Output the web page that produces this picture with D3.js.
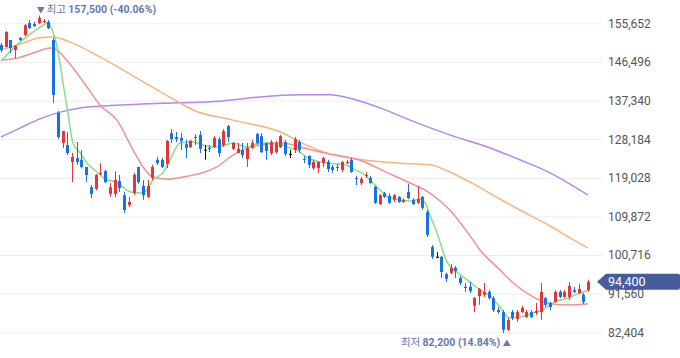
<!DOCTYPE html>
<html><head><meta charset="utf-8">
<script src="https://cdn.jsdelivr.net/npm/d3@7"></script>
<style>html,body{margin:0;padding:0;background:#fff;overflow:hidden}</style>
</head><body><svg id="c" width="680" height="358"></svg>
<script>
// prices in thousands of won
const opens  = [150.5,150.0,151.7,149.3,152.2,152.9,155.7,155.5,155.7,156.0,156.0,151.7,134.4,127.3,126.8,122.8,123.7,123.3,121.6,116.8,116.4,119.9,120.6,115.2,115.2,118.3,114.9,112.6,115.4,121.6,117.1,114.5,119.0,123.3,123.3,122.3,129.6,128.7,128.5,127.0,126.3,128.5,129.2,125.7,126.1,126.3,128.2,126.8,131.3,125.9,124.9,125.6,123.5,126.1,129.4,128.9,127.3,124.9,125.1,126.3,127.5,124.7,125.6,127.5,123.5,124.2,121.3,121.3,122.5,122.8,121.6,121.6,120.9,122.5,123.3,119.0,117.8,119.5,119.0,116.9,112.8,115.4,114.7,113.8,114.5,113.3,115.7,113.8,113.1,114.5,110.9,102.6,100.3,100.3,96.2,96.5,97.7,95.3,93.2,93.2,88.7,91.0,91.3,92.0,90.5,87.7,87.2,83.0,87.2,85.6,87.2,86.0,87.2,87.0,87.2,90.5,89.4,89.6,92.0,90.8,90.8,92.4,91.7,91.3,92.4];
const highs  = [151.0,153.8,151.7,150.5,152.4,155.5,156.4,156.0,157.5,156.7,156.4,152.2,134.9,130.1,129.9,124.9,127.5,125.6,121.6,117.3,119.9,122.5,120.9,117.8,120.6,119.7,115.7,114.5,120.2,121.6,118.5,118.5,122.1,124.0,123.7,128.0,130.6,129.9,129.6,128.0,128.0,129.4,130.1,126.8,126.8,128.9,128.7,130.6,131.5,127.5,127.3,127.3,127.3,128.0,129.6,129.6,127.3,128.0,127.8,129.2,128.0,125.6,128.7,128.0,124.2,124.4,123.3,122.8,124.0,123.3,122.1,122.3,123.0,123.3,123.7,119.5,119.2,120.4,119.5,117.1,115.2,115.7,115.4,115.2,114.7,114.2,117.6,114.2,117.1,114.7,111.4,103.1,101.4,100.5,96.5,98.6,98.1,95.8,94.1,94.3,90.8,92.9,94.1,92.4,91.0,88.4,87.7,85.8,87.7,87.7,88.7,87.7,87.7,89.4,94.1,90.8,89.6,92.4,92.4,92.4,94.3,93.2,93.9,91.7,94.8];
const lows   = [148.8,150.0,148.6,147.4,151.5,152.6,154.3,154.8,155.5,155.7,154.3,136.8,128.2,126.1,124.4,118.0,122.1,121.3,118.0,114.2,116.1,119.7,117.8,114.5,114.5,115.7,110.7,112.1,114.9,117.6,113.8,114.2,118.5,122.1,121.3,121.3,127.3,127.5,125.6,123.7,126.1,126.8,124.9,123.3,125.1,126.1,124.0,126.3,127.5,125.6,124.9,123.7,121.6,125.9,126.8,124.9,123.3,124.4,124.7,126.1,124.2,123.7,124.9,124.9,122.5,121.3,120.9,120.2,121.6,120.4,120.2,120.6,120.4,122.3,120.2,117.3,117.3,119.0,117.6,112.8,112.6,114.2,112.8,113.3,113.1,113.1,114.0,112.6,112.8,111.4,105.0,99.8,100.0,95.3,94.3,96.2,95.3,93.6,92.0,91.7,87.2,88.9,90.8,90.1,87.2,86.8,82.2,82.7,85.3,84.9,87.0,85.8,85.8,86.5,85.3,88.4,87.7,89.4,90.5,90.5,90.1,91.7,91.5,89.1,92.0];
const closes = [149.3,153.6,149.8,150.3,151.7,155.2,154.5,155.0,156.9,156.2,154.5,138.7,128.7,130.1,124.9,124.0,122.8,121.6,119.7,115.2,119.7,120.2,118.0,116.8,118.5,116.6,111.4,113.3,119.7,118.0,114.9,117.1,121.6,122.5,121.6,127.8,128.2,128.2,127.8,126.1,127.8,128.7,125.9,125.7,125.9,128.5,124.9,130.1,128.7,127.3,125.9,124.4,126.1,127.3,127.3,125.1,125.4,127.5,127.3,128.9,124.7,124.7,128.2,125.6,123.3,122.1,122.8,122.8,123.7,121.1,120.9,121.4,122.8,122.8,120.4,118.8,118.8,119.7,117.8,113.1,114.9,114.5,113.1,114.9,113.3,113.8,114.2,112.8,114.0,111.9,105.5,100.3,100.3,96.7,95.1,97.7,96.9,94.1,92.9,92.2,90.5,92.7,92.0,90.5,87.7,87.2,83.0,85.3,85.8,87.2,88.2,87.2,86.0,87.5,92.0,88.9,88.4,92.0,90.8,92.0,93.4,92.0,92.7,89.6,94.4];

// moving average lines: [candle index, price (thousands)]
const ma5  = [[0,146.7],[4.0,151.2],[6.8,153.6],[8.9,155.2],[9.9,155.7],[10.8,154.1],[12.0,149.3],[13.1,141.5],[14.2,133.9],[15.2,127.3],[16.7,124.9],[18.2,122.5],[20.3,120.4],[22.4,118.5],[24.5,118.0],[25.8,116.8],[27.2,115.7],[29.4,115.4],[30.8,116.1],[32.1,118.5],[34.2,120.2],[35.7,123.3],[37.8,127.3],[40.6,127.5],[42.7,126.8],[44.8,126.3],[46.9,126.6],[49.0,127.3],[52.0,126.3],[54.7,127.3],[58.3,127.3],[60.4,126.3],[62.5,125.6],[64.6,123.9],[67.4,122.8],[69.5,122.5],[72.7,122.1],[74.8,120.9],[76.9,119.7],[78.4,118.0],[80.5,115.7],[81.7,114.5],[83.9,113.8],[86.8,113.5],[88.5,114.0],[89.6,113.1],[90.6,110.2],[92.1,106.0],[94.2,99.1],[96.3,96.7],[99.1,94.3],[101.2,92.4],[103.3,91.0],[105.4,88.4],[107.5,85.8],[109.6,86.0],[112.4,87.0],[114.5,87.7],[116.6,89.4],[119.6,90.5],[122.3,91.7],[124,92.4]];
const ma20 = [[0,146.9],[3.4,147.4],[6.8,148.6],[10.4,149.8],[11.4,149.6],[13.9,146.9],[18.2,140.5],[20.9,136.3],[24.5,132.7],[27.9,125.6],[30.0,121.6],[32.1,119.2],[35.1,118.7],[38.4,119.2],[45.6,121.6],[49.0,124.4],[52.6,126.3],[59.6,127.3],[63.2,126.3],[68.4,124.9],[76.3,123.0],[81.7,120.2],[86.4,117.8],[90.6,115.4],[94.8,111.4],[99.7,104.3],[101.2,101.9],[105.4,97.2],[108.2,94.1],[112.4,90.8],[116.6,89.1],[120.2,88.9],[124,89.1]];
const ma60 = [[0,149.3],[4.0,150.7],[8.2,152.2],[11.0,152.4],[14.6,151.2],[20.9,147.7],[29.4,142.2],[37.8,136.8],[40.6,135.1],[49.0,132.7],[59.6,129.6],[63.2,127.5],[69.5,124.7],[76.3,123.3],[84.3,122.5],[90.6,122.1],[94.8,120.4],[99.1,118.0],[105.4,114.0],[109.6,111.4],[116.0,107.6],[120.2,104.8],[124,102.4]];
const ma120= [[0,128.7],[4.0,130.8],[8.2,133.0],[12.5,134.6],[16.7,135.6],[20.9,136.0],[29.4,136.5],[37.8,136.8],[46.3,137.2],[54.7,138.2],[63.2,138.7],[69.5,138.7],[73.7,137.9],[80.1,135.6],[86.4,132.7],[94.8,129.2],[103.3,126.1],[109.6,123.3],[116.0,120.2],[122.3,116.1],[124,114.9]];

const tickValues = [82404,91560,100716,109872,119028,128184,137340,146496,155652];
const maxLabel = {text:"최고", price:"157,500", pct:"(-40.06%)"};
const minLabel = {text:"최저", price:"82,200", pct:"(14.84%)"};
const lastLabel = "94,400";

const svg = d3.select("#c");
const n = opens.length;
const x = d3.scaleLinear().domain([0, n-1]).range([1, 588]);
const y = d3.scaleLinear().domain([82404, 155652]).range([332.3, 23.3]);
const K = v => v*1000;

// grid + axis labels
const axis = d3.axisRight(y).tickValues(tickValues).tickSize(603).tickPadding(5)
  .tickFormat(d3.format(","));
const ag = svg.append("g").call(axis);
ag.select(".domain").remove();
ag.selectAll(".tick line").attr("stroke","#ededed");
ag.selectAll(".tick text").attr("fill","#555").attr("font-size","12px")
  .attr("font-family","Roboto, 'Noto Sans', sans-serif");

// MA lines
const line = d3.line().x(d=>x(d[0])).y(d=>y(K(d[1]))).curve(d3.curveMonotoneX);
const mas = [[ma120,"#b784f6"],[ma60,"#f9b47e"],[ma20,"#f49090"],[ma5,"#86df86"]];
mas.forEach(([data,col])=>{
  svg.append("path").datum(data).attr("d",line).attr("fill","none")
    .attr("stroke",col).attr("stroke-width",1.5);
});

// candles
const idx = d3.range(n);
const colorOf = i => closes[i]>opens[i] ? "#e8333a" : (closes[i]<opens[i] ? "#1673e6" : "#111");
const cg = svg.append("g");
cg.selectAll("line").data(idx).join("line")
  .attr("x1",i=>Math.round(x(i))+0.5).attr("x2",i=>Math.round(x(i))+0.5)
  .attr("y1",i=>y(K(highs[i]))).attr("y2",i=>y(K(lows[i])))
  .attr("stroke",colorOf).attr("stroke-width",1);
cg.selectAll("rect").data(idx).join("rect")
  .attr("x",i=>Math.round(x(i))-1).attr("width",3)
  .attr("y",i=>y(K(Math.max(opens[i],closes[i]))))
  .attr("height",i=>Math.max(1, Math.abs(y(K(opens[i]))-y(K(closes[i])))))
  .attr("fill",colorOf);

// max / min labels
const maxI = d3.maxIndex(highs), minI = d3.minIndex(lows);
const labCol = "#6479b3";
const kFont = "'Noto Sans CJK KR', sans-serif", nFont = "Roboto, 'Noto Sans', sans-serif";
const tMax = svg.append("text").attr("x", x(maxI)-2).attr("y", 13)
  .attr("font-size","10.5px").attr("fill",labCol);
tMax.append("tspan").attr("font-family",kFont).attr("font-size","8px").text("▼ ");
tMax.append("tspan").attr("font-family",kFont).text(maxLabel.text+" ");
tMax.append("tspan").attr("font-family",nFont).attr("font-weight","bold").text(maxLabel.price+" "+maxLabel.pct);

const tMin = svg.append("text").attr("x", x(minI)+8).attr("y", 346).attr("text-anchor","end")
  .attr("font-size","10.5px").attr("fill",labCol);
tMin.append("tspan").attr("font-family",kFont).text(minLabel.text+" ");
tMin.append("tspan").attr("font-family",nFont).attr("font-weight","bold").text(minLabel.price+" "+minLabel.pct+" ");
tMin.append("tspan").attr("font-family",kFont).attr("font-size","8px").text("▲");

// last price tag
const ly = y(K(closes[n-1]));
const tagG = svg.append("g");
tagG.append("path")
  .attr("d",`M597,${ly} L606,${ly-8} L678,${ly-8} Q680,${ly-8} 680,${ly-6} L680,${ly+6} Q680,${ly+8} 678,${ly+8} L606,${ly+8} Z`)
  .attr("fill","#475c9c");
tagG.append("text").attr("x",608).attr("y",ly+4.5).attr("fill","#fff")
  .attr("font-family",nFont).attr("font-size","12.5px").text(lastLabel);
</script></body></html>
